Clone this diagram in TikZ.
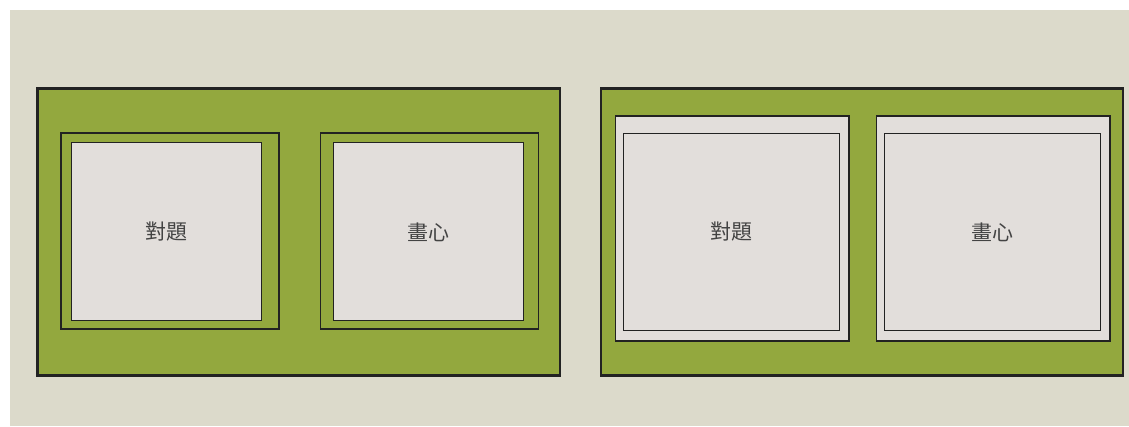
\documentclass[tikz,border=0pt]{standalone}
\usepackage{fontspec}
\newfontfamily\cjk{Noto Sans CJK TC}
\definecolor{bgc}{HTML}{DCDACB}
\definecolor{olive}{HTML}{93A83E}
\definecolor{paper}{HTML}{E2DEDB}
\definecolor{ink}{HTML}{222222}
\tikzset{
  panel/.style={draw=ink, line width=2.6pt, fill=olive},
  frame/.style={draw=ink, line width=1.2pt},
  inner/.style={draw=ink, line width=1pt, fill=paper},
  lab/.style={font=\cjk\fontsize{21}{21}\selectfont, text=ink!85}
}
\begin{document}
\begin{tikzpicture}[x=1pt,y=-1pt]
\useasboundingbox (0,0) rectangle (1129,426);
\fill[white] (0,0) rectangle (1129,426);
\fill[bgc] (10,10) rectangle (1129,426);
% left panel
\draw[panel] (37.5,88.5) rectangle (560,375.5);
\draw[frame, fill=olive] (61,133) rectangle (279,329);
\draw[inner] (71,142.5) rectangle (261,320.5);
\draw[frame, fill=olive] (320.5,133) rectangle (538.5,329);
\draw[inner] (333,142.5) rectangle (523,320.5);
\node[lab] (a1) at (166,232) {對題};
\node[lab] (b1) at (428,232) {畫心};
% right panel
\draw[panel] (601,88.5) rectangle (1123,375.5);
\draw[frame, fill=paper] (615.5,116) rectangle (849,341);
\draw[inner, line width=0.9pt] (623.5,133.5) rectangle (839.5,330);
\draw[frame, fill=paper] (876.5,116) rectangle (1110,341);
\draw[inner, line width=0.9pt] (884.5,133.5) rectangle (1100.5,330);
\node[lab] (a2) at (731,232) {對題};
\node[lab] (b2) at (992,232) {畫心};
\end{tikzpicture}
\end{document}
